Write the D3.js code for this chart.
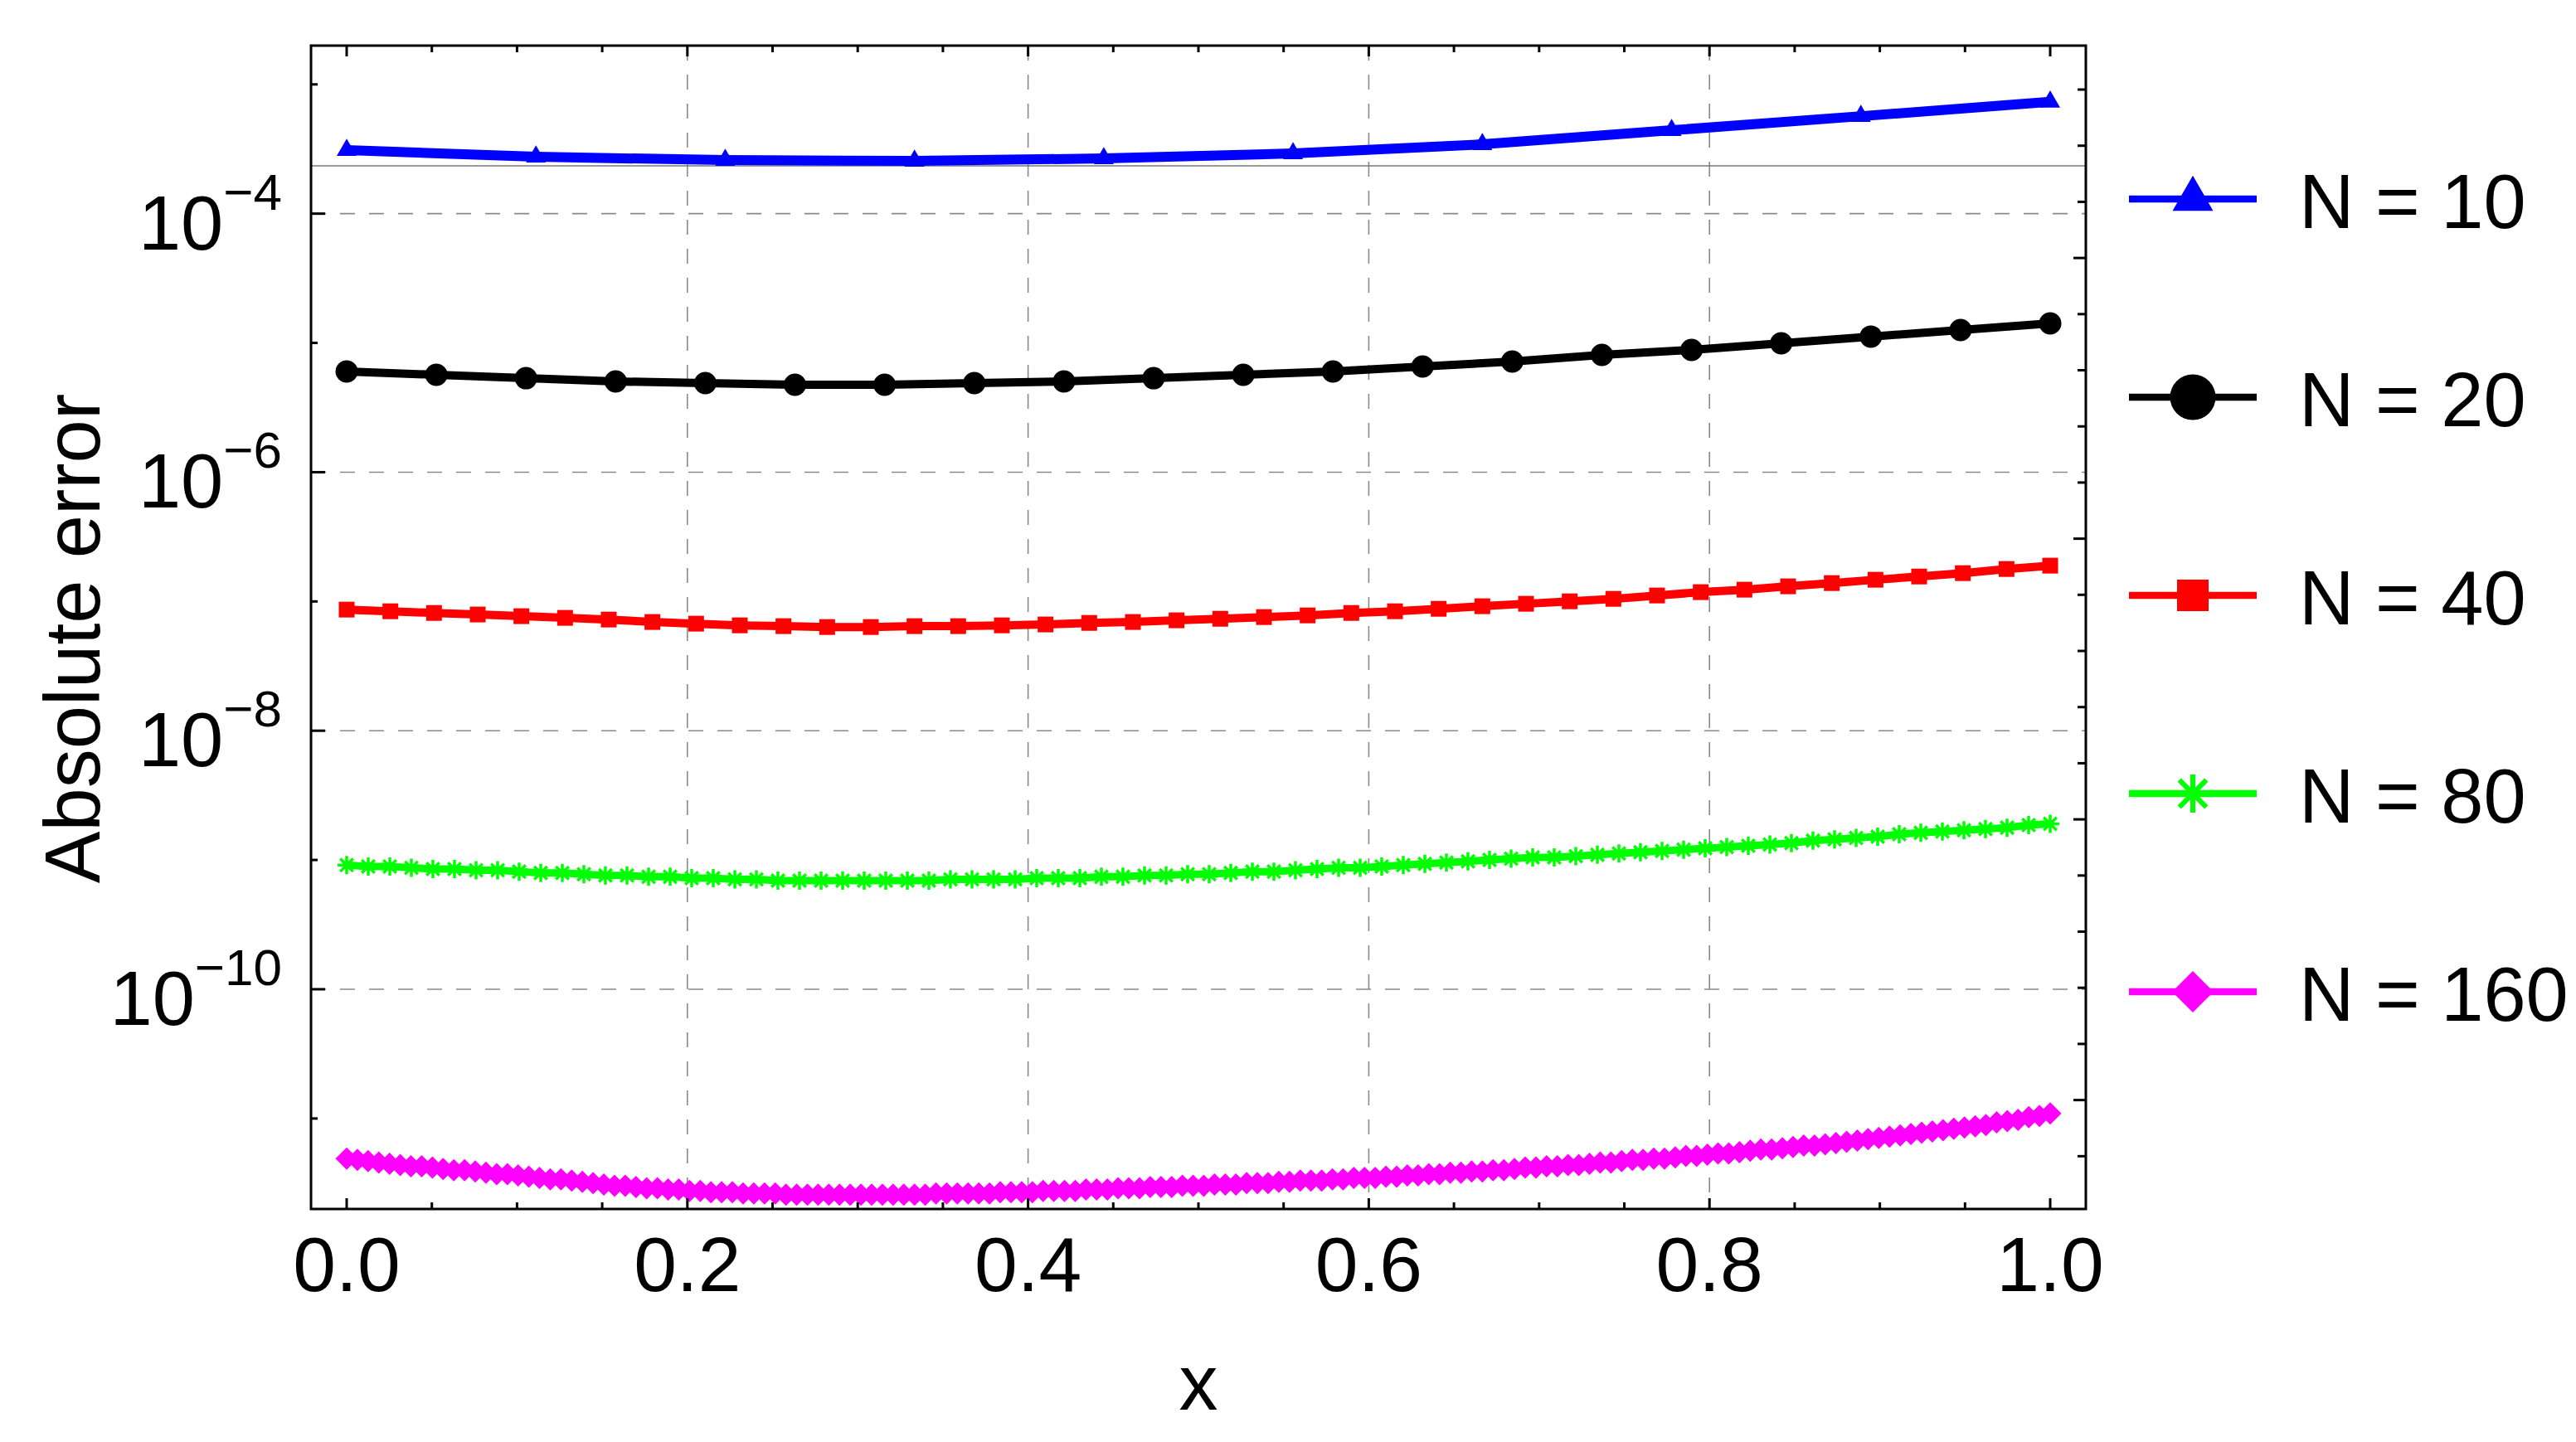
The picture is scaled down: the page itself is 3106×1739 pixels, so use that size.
<!DOCTYPE html>
<html><head><meta charset="utf-8">
<script src="https://cdn.jsdelivr.net/npm/d3@7"></script>
<style>body{margin:0;background:#fff}svg{display:block}text{font-family:"Liberation Sans",Arial,sans-serif}</style>
</head><body>
<script>
// log10 of absolute error
const seriesNames = ["N = 10","N = 20","N = 40","N = 80","N = 160"];
const seriesColors = ["#0000ff","#000000","#ff0000","#00ff00","#ff00ff"];
const log10N10 = [-3.509,-3.560,-3.586,-3.592,-3.573,-3.534,-3.464,-3.355,-3.246,-3.135];
const log10N20 = [-5.221,-5.247,-5.273,-5.298,-5.311,-5.324,-5.324,-5.311,-5.298,-5.273,
  -5.247,-5.221,-5.183,-5.144,-5.093,-5.054,-5.003,-4.951,-4.900,-4.849];
const log10N40 = [-7.063,-7.076,-7.089,-7.101,-7.114,-7.127,-7.140,-7.159,-7.172,-7.185,
  -7.191,-7.198,-7.198,-7.191,-7.191,-7.185,-7.178,-7.166,-7.159,-7.146,
  -7.134,-7.121,-7.108,-7.089,-7.076,-7.057,-7.037,-7.018,-6.999,-6.980,
  -6.954,-6.928,-6.909,-6.883,-6.858,-6.832,-6.807,-6.781,-6.749,-6.723];
const log10N80 = [-9.04,-9.05,-9.05,-9.06,-9.07,-9.07,-9.08,-9.08,-9.09,-9.10,-9.10,-9.11,
  -9.12,-9.12,-9.13,-9.13,-9.14,-9.14,-9.15,-9.15,-9.16,-9.16,-9.16,-9.16,
  -9.16,-9.16,-9.16,-9.16,-9.15,-9.15,-9.15,-9.15,-9.14,-9.14,-9.14,-9.13,
  -9.13,-9.12,-9.12,-9.11,-9.11,-9.10,-9.09,-9.09,-9.08,-9.07,-9.06,-9.06,
  -9.05,-9.04,-9.03,-9.02,-9.01,-9.00,-8.99,-8.98,-8.98,-8.97,-8.96,-8.95,
  -8.94,-8.93,-8.92,-8.91,-8.90,-8.89,-8.88,-8.87,-8.85,-8.84,-8.83,-8.82,
  -8.80,-8.79,-8.78,-8.77,-8.76,-8.75,-8.73,-8.72];
const log10N160 = [-11.31,-11.32,-11.33,-11.34,-11.35,-11.36,-11.37,-11.37,
  -11.38,-11.39,-11.40,-11.40,-11.41,-11.42,-11.43,-11.43,
  -11.44,-11.45,-11.46,-11.47,-11.47,-11.48,-11.49,-11.50,
  -11.51,-11.52,-11.52,-11.53,-11.54,-11.54,-11.55,-11.55,
  -11.56,-11.56,-11.57,-11.57,-11.57,-11.58,-11.58,-11.58,
  -11.58,-11.59,-11.59,-11.59,-11.59,-11.59,-11.59,-11.59,
  -11.59,-11.59,-11.59,-11.59,-11.59,-11.59,-11.59,-11.58,
  -11.58,-11.58,-11.58,-11.58,-11.58,-11.57,-11.57,-11.57,
  -11.57,-11.56,-11.56,-11.56,-11.56,-11.55,-11.55,-11.55,
  -11.54,-11.54,-11.54,-11.53,-11.53,-11.53,-11.52,-11.52,
  -11.52,-11.51,-11.51,-11.51,-11.50,-11.50,-11.50,-11.49,
  -11.49,-11.48,-11.48,-11.48,-11.47,-11.47,-11.46,-11.46,
  -11.46,-11.45,-11.45,-11.44,-11.44,-11.43,-11.43,-11.42,
  -11.42,-11.41,-11.41,-11.40,-11.40,-11.39,-11.38,-11.38,
  -11.37,-11.37,-11.36,-11.36,-11.35,-11.34,-11.34,-11.33,
  -11.32,-11.32,-11.31,-11.31,-11.30,-11.29,-11.29,-11.28,
  -11.27,-11.27,-11.26,-11.25,-11.24,-11.24,-11.23,-11.22,
  -11.21,-11.21,-11.20,-11.19,-11.18,-11.17,-11.16,-11.15,
  -11.14,-11.13,-11.12,-11.11,-11.10,-11.09,-11.08,-11.07,
  -11.06,-11.05,-11.03,-11.02,-11.01,-10.99,-10.98,-10.96];
const xTickLabels = ["0.0","0.2","0.4","0.6","0.8","1.0"];
const yTickExponents = [-4,-6,-8,-10];
const axisLineExponent = -3.63;

const W=3106,H=1739;
const L=375,R=2515,T=55,B=1458;
const x=d3.scaleLinear().domain([0,1]).range([418,2472]);
const y=d3.scaleLog().domain([Math.pow(10,-11.70),Math.pow(10,-2.70)]).range([B,T]);
const svg=d3.select("body").append("svg").attr("width",W).attr("height",H);

// grid
const grid=svg.append("g").attr("stroke","#8a8a8a").attr("stroke-width",1.6).attr("stroke-dasharray","18,17");
[0.2,0.4,0.6,0.8].forEach(v=>grid.append("line").attr("x1",x(v)).attr("x2",x(v)).attr("y1",T).attr("y2",B));
yTickExponents.forEach(e=>grid.append("line").attr("x1",L).attr("x2",R).attr("y1",y(Math.pow(10,e))).attr("y2",y(Math.pow(10,e))));
svg.append("line").attr("x1",L).attr("x2",R).attr("y1",y(Math.pow(10,axisLineExponent))).attr("y2",y(Math.pow(10,axisLineExponent)))
  .attr("stroke","#777").attr("stroke-width",1.6);

const allData=[log10N10,log10N20,log10N40,log10N80,log10N160];
const lineWidths=[12,10,10,9,9];
function markerPath(i,s){
  if(i===0) return d3.symbol(d3.symbolTriangle, s*s*0.433)();
  if(i===1) return d3.symbol(d3.symbolCircle, Math.PI*s*s/4)();
  if(i===2) return d3.symbol(d3.symbolSquare, s*s)();
  if(i===3){ const r=s/2; let p=""; for(let k=0;k<4;k++){const a=k*Math.PI/4; p+=`M${-r*Math.cos(a)},${-r*Math.sin(a)}L${r*Math.cos(a)},${r*Math.sin(a)}`;} return p; }
  const r=s/2; return `M0,${-r}L${r},0L0,${r}L${-r},0Z`;
}
const markerSizes=[24,27,19,22,27];
const plot=svg.append("g");
allData.forEach((arr,i)=>{
  const n=arr.length;
  const pts=arr.map((v,k)=>[k/(n-1),Math.pow(10,v)]);
  plot.append("path").datum(pts).attr("fill","none").attr("stroke",seriesColors[i]).attr("stroke-width",lineWidths[i])
    .attr("stroke-linejoin","round").attr("d",d3.line().x(d=>x(d[0])).y(d=>y(d[1])));
  plot.append("g").selectAll("path").data(pts).join("path")
    .attr("transform",d=>`translate(${x(d[0])},${y(d[1])})`)
    .attr("d",markerPath(i,markerSizes[i]))
    .attr("fill",i===3?"none":seriesColors[i]).attr("stroke",i===3?seriesColors[i]:"none").attr("stroke-width",3.5);
});

// frame
svg.append("rect").attr("x",L).attr("y",T).attr("width",R-L).attr("height",B-T).attr("fill","none").attr("stroke","#000").attr("stroke-width",3);
const tk=svg.append("g").attr("stroke","#000").attr("stroke-width",3);
d3.range(0,21).forEach(k=>{const v=k/20, major=k%4===0, len=major?13:8;
  tk.append("line").attr("x1",x(v)).attr("x2",x(v)).attr("y1",B).attr("y2",B-len);
  tk.append("line").attr("x1",x(v)).attr("x2",x(v)).attr("y1",T).attr("y2",T+len);});
d3.range(-11,-2).forEach(e=>{const yy=y(Math.pow(10,e)); const major=e%2===0;
  tk.append("line").attr("x1",L).attr("x2",L+(major?17:8)).attr("y1",yy).attr("y2",yy);});
d3.range(7,27).forEach(k=>{const yy=y(Math.exp(-k)); const major=k%5===0;
  tk.append("line").attr("x1",R).attr("x2",R-(major?15:10)).attr("y1",yy).attr("y2",yy);});

// tick labels
xTickLabels.forEach(t=>svg.append("text").attr("x",x(+t)).attr("y",1557).attr("text-anchor","middle")
  .attr("font-size",93).text(t));
yTickExponents.forEach(e=>{
  const t=svg.append("text").attr("x",340).attr("y",y(Math.pow(10,e))+43).attr("text-anchor","end").attr("font-size",92);
  t.append("tspan").text("10");
  t.append("tspan").attr("font-size",62).attr("dy",-48).text("\u2212"+Math.abs(e));
});
svg.append("text").attr("x",1445).attr("y",1700).attr("text-anchor","middle").attr("font-size",94).text("x");
svg.append("text").attr("transform","translate(120,770) rotate(-90)").attr("text-anchor","middle").attr("font-size",94).text("Absolute error");

// legend
const legY=[240,479,718,957,1196];
const legMarkerSizes=[49,55,38,46,50];
seriesNames.forEach((nm,i)=>{
  const g=svg.append("g").attr("transform",`translate(0,${legY[i]})`);
  g.append("line").attr("x1",2567).attr("x2",2721).attr("y1",0).attr("y2",0).attr("stroke",seriesColors[i]).attr("stroke-width",8.5);
  g.append("path").attr("transform","translate(2644,0)").attr("d",markerPath(i,legMarkerSizes[i]))
    .attr("fill",i===3?"none":seriesColors[i]).attr("stroke",i===3?seriesColors[i]:"none").attr("stroke-width",6);
  g.append("text").attr("x",2772).attr("y",35).attr("font-size",92).text(nm);
});
</script>
</body></html>
